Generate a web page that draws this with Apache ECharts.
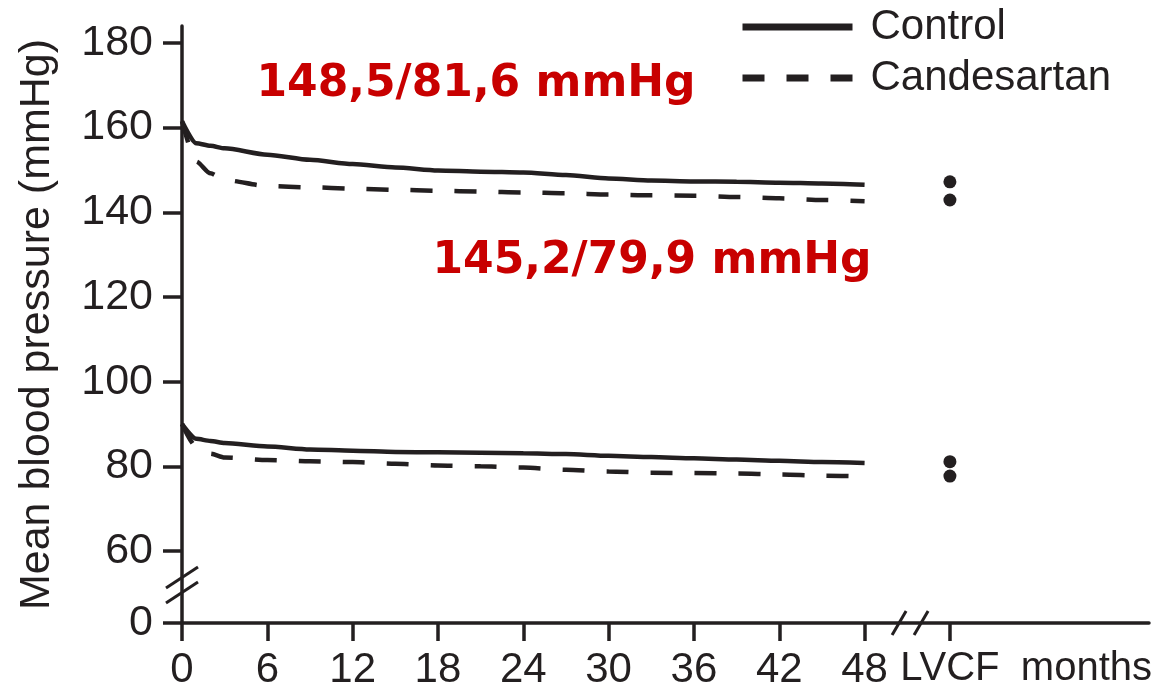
<!DOCTYPE html>
<html>
<head>
<meta charset="utf-8">
<title>Mean blood pressure</title>
<script src="https://cdn.jsdelivr.net/npm/echarts@6/dist/echarts.min.js"></script>
<style>
  html, body { margin: 0; padding: 0; background: #ffffff; }
  #chart { width: 1159px; height: 691px; }
</style>
</head>
<body>
<div id="chart"></div>
<script>
// Follow-up months and mean blood pressure per arm (mmHg)
const months = [0, 1, 2, 3, 6, 9, 12, 15, 18, 21, 24, 27, 30, 33, 36, 39, 42, 45, 48];
const controlSystolic = [161.5, 156.3, 155.7, 155.1, 153.6, 152.4, 151.4, 150.6, 149.9, 149.6, 149.4, 148.8, 148.0, 147.5, 147.3, 147.2, 147.0, 146.8, 146.5];
const candesartanSystolic = [161.5, 152.0, 149.2, 147.6, 146.2, 145.9, 145.6, 145.3, 145.1, 144.9, 144.7, 144.5, 144.2, 144.0, 143.9, 143.6, 143.3, 142.9, 142.6];
const controlDiastolic = [90.0, 86.5, 86.0, 85.5, 84.7, 84.0, 83.7, 83.4, 83.3, 83.2, 83.1, 82.9, 82.5, 82.2, 81.9, 81.6, 81.3, 81.0, 80.8];
const candesartanDiastolic = [90.0, 84.6, 83.0, 82.1, 81.5, 81.2, 81.0, 80.6, 80.2, 80.0, 79.7, 79.2, 78.8, 78.5, 78.4, 78.3, 78.1, 77.8, 77.6];

// Last value carried forward (LVCF) per arm: [systolic, diastolic]
const lvcfMonth = 54;
const controlLvcf = [147.2, 81.1];
const candesartanLvcf = [142.9, 77.7];

// Axis ticks and labels
const xTicks = [0, 6, 12, 18, 24, 30, 36, 42, 48, 54];
const xUnitPos = 63.6;
const xUnitLabel = 'months';
const lvcfLabel = 'LVCF';
const yBase = 43;             // broken axis: bottom of the axis stands for 0
const yTicks = [43, 60, 80, 100, 120, 140, 160, 180];
const yBaseLabel = '0';
const yName = 'Mean blood pressure (mmHg)';

const seriesNames = ['Control', 'Candesartan'];
const averageLabels = ['148,5/81,6 mmHg', '145,2/79,9 mmHg'];

const ink = '#231f20';
const red = '#c80000';
const font = 'Liberation Sans, Arial, Helvetica, sans-serif';
const dash = [22, 22];

function pairs(xs, ys) { return xs.map((x, i) => [x, ys[i]]); }

const chart = echarts.init(document.getElementById('chart'), null, { renderer: 'canvas' });

function lineSeries(name, values, dashed) {
  return {
    name: name,
    type: 'line',
    data: pairs(months, values),
    symbol: 'none',
    smooth: 0.25,
    smoothMonotone: 'x',
    lineStyle: { color: ink, width: 4.5, type: dashed ? dash : 'solid', cap: 'butt' },
    itemStyle: { color: ink },
    z: 3
  };
}

function lvcfSeries(name, values) {
  return {
    name: name,
    type: 'scatter',
    data: values.map(v => [lvcfMonth, v]),
    symbol: 'circle',
    symbolSize: 13,
    itemStyle: { color: ink, opacity: 1 },
    z: 4
  };
}

const option = {
  animation: false,
  backgroundColor: '#ffffff',
  grid: { left: 182, right: 10, top: 26, bottom: 63, containLabel: false },
  legend: {
    data: seriesNames,
    orient: 'vertical',
    left: 739,
    top: 6,
    padding: 0,
    icon: 'inherit',
    itemWidth: 110,
    itemHeight: 14,
    itemGap: 9,
    itemStyle: { opacity: 0 },
    lineStyle: { width: 7 },
    textStyle: { fontSize: 42, lineHeight: 42, color: ink, fontFamily: font, padding: [0, 0, 0, 13] }
  },
  xAxis: {
    type: 'value',
    min: 0,
    max: 68,
    axisLine: { show: true, lineStyle: { color: ink, width: 3.5 } },
    axisTick: { show: true, length: 18, lineStyle: { color: ink, width: 3.5 }, customValues: xTicks },
    axisLabel: {
      customValues: xTicks.concat([xUnitPos]),
      formatter: v => v === lvcfMonth ? '{w|' + lvcfLabel + '}' : (v === xUnitPos ? '{w|' + xUnitLabel + '}' : String(v)),
      fontSize: 42, color: ink, fontFamily: font, margin: 26,
      rich: { w: { fontSize: 40, color: ink, fontFamily: font } }
    },
    splitLine: { show: false }
  },
  yAxis: {
    type: 'value',
    min: yBase,
    max: 184,
    name: yName,
    nameLocation: 'middle',
    nameGap: 123,
    nameTextStyle: { fontSize: 43, color: ink, fontFamily: font },
    axisLine: { show: true, lineStyle: { color: ink, width: 3.5 } },
    axisTick: { show: true, length: 19, lineStyle: { color: ink, width: 3.5 }, customValues: yTicks },
    axisLabel: {
      customValues: yTicks,
      formatter: v => v === yBase ? yBaseLabel : String(v),
      fontSize: 43, color: ink, fontFamily: font, margin: 29
    },
    splitLine: { show: false }
  },
  series: [
    lineSeries(seriesNames[0], controlSystolic, false),
    lineSeries(seriesNames[1], candesartanSystolic, true),
    lineSeries(seriesNames[0], controlDiastolic, false),
    lineSeries(seriesNames[1], candesartanDiastolic, true),
    lvcfSeries('LVCF ' + seriesNames[0], controlLvcf),
    lvcfSeries('LVCF ' + seriesNames[1], candesartanLvcf)
  ]
};

chart.setOption(option);

// Break marks on both axes and the average-pressure annotations
const yBreak = chart.convertToPixel({ gridIndex: 0 }, [0, 52]);
const xBreak = chart.convertToPixel({ gridIndex: 0 }, [51.2, yBase]);

function slash(cx, cy, dx, dy) {
  return {
    type: 'line',
    shape: { x1: cx - dx, y1: cy + dy, x2: cx + dx, y2: cy - dy },
    style: { stroke: ink, lineWidth: 3 },
    z: 10
  };
}

function note(x, y, text) {
  return {
    type: 'text',
    style: {
      x: x, y: y, text: text, fill: red,
      font: 'bold 44px "DejaVu Sans", Verdana, sans-serif',
      textAlign: 'center', textVerticalAlign: 'middle'
    },
    z: 10
  };
}

chart.setOption({
  graphic: [
    slash(yBreak[0], yBreak[1] - 7.5, 16, 10.5),
    slash(yBreak[0], yBreak[1] + 7.5, 16, 10.5),
    slash(xBreak[0] - 11, xBreak[1], 7, 12),
    slash(xBreak[0] + 11, xBreak[1], 7, 12),
    note(476, 85, averageLabels[0]),
    note(652, 262, averageLabels[1])
  ]
});
</script>
</body>
</html>
